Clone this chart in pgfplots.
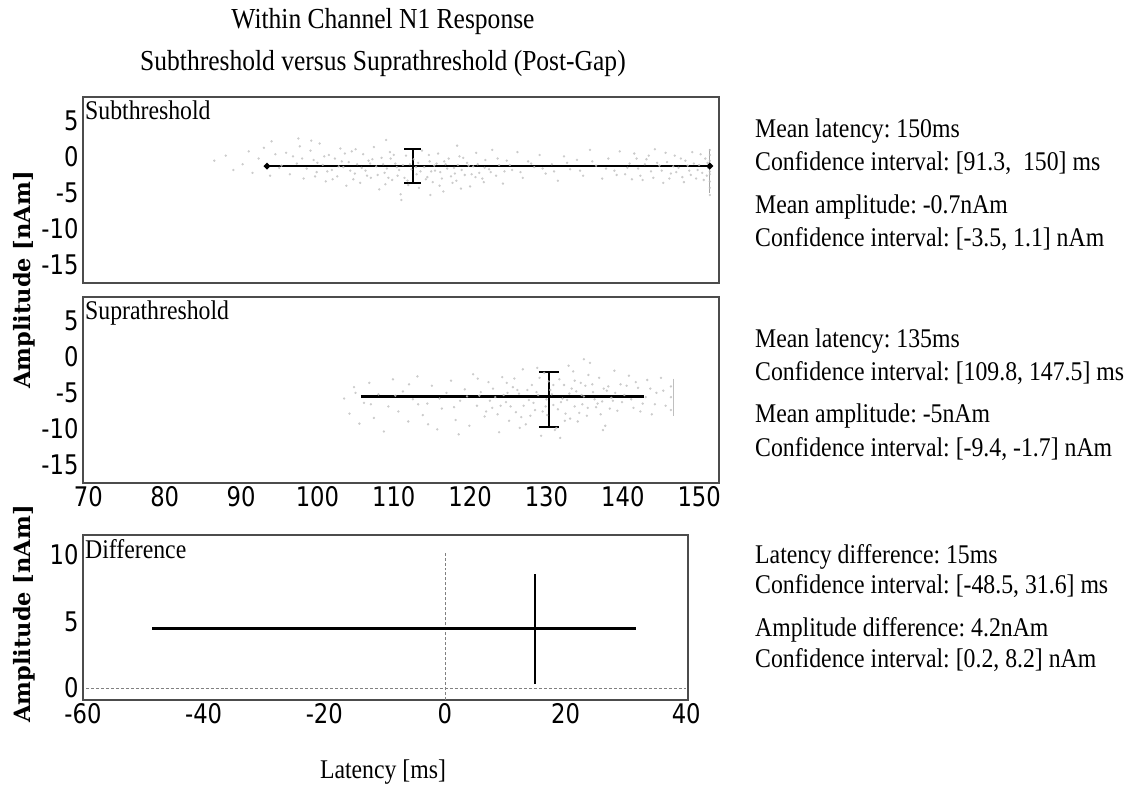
\documentclass[border=0pt]{standalone}
\usepackage{pgfplots}
\pgfplotsset{compat=1.18}
\usepackage{pgfplotstable}
\usepackage{fontspec}
\setmainfont[FakeStretch=0.88]{Liberation Serif}
\newfontfamily\titlefam[FakeStretch=0.88]{Liberation Serif}
\newfontfamily\tickfam[FakeStretch=0.84]{DejaVu Sans}
\newfontfamily\labfam{DejaVu Serif}
\newcommand{\tickfont}{\tickfam\fontsize{27bp}{29bp}\selectfont}
\newcommand{\txtfont}{\fontsize{27bp}{30bp}\selectfont}
\frenchspacing

\pgfplotstableread{
x y
86.5 -0.5
88.0 0.2
89.0 -1.8
90.2 -1.0
91.0 0.8
91.5 -2.2
92.3 -0.2
93.0 1.3
93.8 -2.6
94.5 0.4
95.0 -1.5
94.0 2.2
95.3 -1.2
95.9 0.6
96.4 -2.4
96.8 0.1
97.3 -0.9
97.7 1.5
98.2 -3.0
98.6 -1.6
99.1 0.9
99.5 -0.4
99.9 -2.1
100.3 1.9
100.7 -1.1
101.1 -3.4
101.5 0.3
101.9 -1.8
102.3 -0.2
102.6 -2.7
103.0 1.2
103.4 -1.4
103.8 -4.0
104.1 -0.7
104.5 0.8
104.9 -2.3
105.2 -1.0
105.6 -3.6
106.0 0.4
106.3 -1.9
106.7 -0.5
107.0 -2.9
107.4 1.4
107.7 -1.3
108.1 -4.5
108.4 -0.1
108.8 -2.2
109.1 -1.6
109.5 0.7
109.8 -3.2
110.2 -0.9
110.5 -2.6
110.9 -5.2
111.2 -1.1
111.6 0.2
111.9 -3.9
112.3 -1.7
112.6 -0.3
113.0 -2.4
113.3 -4.3
113.7 0.9
114.0 -1.4
114.4 -2.8
114.7 -0.6
115.1 -3.5
115.4 -1.9
115.8 0.5
116.1 -2.1
116.5 -4.8
116.8 -1.0
117.2 -0.2
117.5 -2.7
117.9 -1.5
118.2 -3.3
118.6 0.1
118.9 -1.8
119.3 -2.5
119.6 -0.8
120.0 -4.1
120.4 -1.3
120.8 0.6
121.2 -2.2
121.6 -3.0
122.0 -0.4
122.5 -1.7
122.9 1.0
123.4 -2.6
123.8 -1.1
124.3 -3.7
124.8 -0.5
100.0 -0.8
101.3 -2.0
102.8 -1.3
103.6 0.5
104.7 -3.1
105.8 -1.5
106.9 -0.9
107.9 -2.5
108.9 -3.8
109.6 -0.2
110.4 -1.4
111.4 -2.9
112.1 -1.0
113.2 -0.8
114.2 -3.1
114.9 -2.0
115.6 -0.9
116.3 -3.0
117.0 -1.6
118.0 -2.3
118.8 -4.4
119.8 -1.2
120.7 -2.8
121.9 -1.5
97.5 2.6
99.2 2.3
125.5 -1.8
126.2 0.7
126.9 -2.9
127.6 -0.6
128.4 -1.4
129.1 0.3
129.9 -2.3
130.7 -1.0
131.5 -3.3
132.3 0.1
133.1 -1.7
134.0 -0.4
134.8 -2.6
135.7 1.0
136.5 -1.2
137.3 -3.0
138.1 -0.2
138.9 -1.9
139.6 0.8
140.3 -2.4
140.9 -0.9
141.5 0.5
142.0 -1.6
142.6 -3.2
143.1 -0.3
143.7 -2.0
144.2 1.1
144.8 -1.2
145.3 -3.6
145.8 -0.7
146.3 -2.3
146.8 0.2
147.3 -1.5
147.8 -2.8
148.2 -0.5
148.7 -1.9
149.1 0.7
149.6 -3.0
150.0 -1.1
150.4 -2.2
150.8 -0.2
151.2 -1.5
151.4 -3.4
151.4 0.3
151.4 -1.0
151.4 -2.4
151.4 -4.3
151.4 1.0
151.4 -0.5
151.4 -5.3
151.4 -2.0
98.0 -0.2
99.7 -2.7
100.9 0.1
102.0 -3.1
103.2 -0.6
104.3 -1.9
105.0 1.1
106.5 -2.6
107.2 -0.3
108.6 -1.0
109.3 -2.9
110.0 0.3
110.7 -1.8
111.8 -3.3
112.9 -1.4
113.5 -2.0
114.6 0.3
115.3 -1.2
116.0 -4.0
116.6 -0.6
117.7 -3.6
118.4 -1.1
119.1 -0.1
120.2 -2.4
121.0 -1.0
121.8 -3.5
122.7 -2.1
123.6 -0.2
124.5 -2.0
125.2 -1.1
126.6 -2.1
128.0 -0.9
129.5 -1.6
131.0 -2.0
132.7 -0.8
134.4 -1.9
136.0 -0.6
137.8 -1.6
139.2 -2.5
140.6 -1.5
141.2 -3.1
141.8 -0.2
142.3 -2.6
142.9 -1.0
143.4 0.2
144.0 -2.9
144.5 -0.8
145.1 -1.9
145.6 0.6
146.1 -3.0
146.6 -1.3
147.0 -2.1
147.6 -0.2
148.0 -3.5
148.5 -1.2
148.9 -2.5
149.3 -0.9
149.8 -1.8
150.2 0.4
150.6 -3.2
151.0 -2.6
151.1 -0.8
111.0 -6.0
114.8 -5.3
109.0 2.4
118.3 1.6
}\subcloud

\pgfplotstableread{
x y
103.5 -5.8
104.2 -7.9
104.8 -4.2
105.5 -9.3
106.1 -6.4
106.8 -3.6
107.4 -8.5
108.0 -5.2
108.7 -10.4
109.3 -6.9
109.9 -3.1
110.6 -7.6
111.2 -4.8
111.9 -9.0
112.5 -5.9
113.1 -2.7
113.8 -8.1
114.4 -6.5
115.0 -4.0
115.7 -10.1
116.3 -7.2
116.9 -5.0
117.5 -3.3
118.1 -8.8
118.7 -6.1
119.3 -4.5
119.9 -9.6
120.4 -2.4
120.9 -6.8
121.4 -4.9
121.9 -8.3
122.4 -3.5
122.9 -7.1
123.3 -5.6
123.8 -10.5
124.2 -2.8
124.7 -6.3
125.1 -8.9
125.6 -4.2
126.0 -7.7
126.4 -5.1
126.9 -1.7
127.3 -9.4
127.7 -6.0
128.1 -3.9
128.5 -7.4
128.9 -5.3
129.3 -11.0
129.7 -2.2
130.1 -8.1
130.5 -4.6
130.9 -6.7
131.3 -9.9
131.7 -3.1
132.1 -5.8
132.5 -7.9
132.9 -1.2
133.3 -4.4
133.7 -6.9
134.1 -9.0
134.5 -3.6
134.9 -5.5
135.3 -8.2
135.7 -0.8
136.1 -4.9
136.5 -7.0
136.9 -2.9
137.3 -6.2
137.7 -9.6
138.1 -4.1
138.5 -5.7
138.9 -1.9
139.3 -7.5
139.7 -3.8
121.2 -5.4
122.1 -7.6
123.0 -4.4
124.0 -6.8
124.9 -5.0
125.8 -3.0
126.7 -8.4
127.5 -4.6
128.3 -6.4
129.1 -2.9
129.9 -6.9
130.7 -5.2
131.5 -7.3
132.3 -3.9
133.1 -8.6
133.9 -4.8
134.7 -6.6
135.5 -2.5
136.3 -5.9
137.1 -8.0
137.9 -4.7
138.7 -6.1
130.3 -3.4
131.1 -10.2
132.7 -6.0
133.5 -2.0
134.3 -7.8
135.1 -4.0
140.2 -5.3
140.8 -2.6
141.4 -7.1
142.0 -4.3
142.6 -6.5
143.2 -3.2
143.8 -8.0
144.4 -5.0
145.0 -2.9
145.6 -6.8
146.3 -4.1
146.3 -7.4
146.3 -5.6
122.6 -6.1
123.6 -8.0
124.4 -5.3
125.3 -6.9
126.2 -4.6
127.0 -6.8
127.9 -8.2
128.7 -4.9
129.5 -7.6
130.0 -5.9
130.9 -3.9
131.9 -6.3
132.4 -8.9
133.0 -5.1
133.7 -3.3
134.6 -5.3
135.4 -7.1
136.0 -3.8
136.7 -6.5
137.5 -4.4
138.3 -7.2
139.0 -5.0
139.9 -6.3
140.5 -4.0
141.1 -5.9
141.7 -3.5
142.3 -7.6
143.0 -5.6
143.6 -4.4
144.2 -6.6
145.3 -4.7
124.8 -3.6
126.5 -9.9
128.8 -1.5
131.8 -11.3
134.9 -0.3
137.4 -10.2
116.0 -5.8
117.9 -7.0
119.6 -5.5
121.0 -3.0
113.2 -6.6
110.2 -5.4
107.0 -6.6
105.0 -5.0
112.0 -3.8
118.5 -10.8
114.5 -9.4
}\supcloud

\pgfplotsset{
  panel/.style={
    scale only axis,
    axis line style={draw=black!70, line width=1.2bp},
    major tick length=0pt,
    tick label style={font=\tickfont},
    yticklabel style={xshift=-1bp},
    /pgf/number format/assume math mode=true,
    clip=true,
  },
  cloud/.style={only marks, mark=*, mark size=1bp, gray!50, mark options={draw opacity=0.7, fill opacity=0.7}},
}

\begin{document}
\begin{tikzpicture}
\useasboundingbox (0,0) rectangle (1132bp,-787bp);

% Title
\node[anchor=base, font=\titlefam\fontsize{29bp}{32bp}\selectfont] at (383bp,-28bp) {Within Channel N1 Response};
\node[anchor=base, font=\titlefam\fontsize{29bp}{32bp}\selectfont] at (383bp,-70bp) {Subthreshold versus Suprathreshold (Post-Gap)};

% Top panel
\begin{axis}[panel, at={(83bp,-97bp)}, anchor=north west, width=636bp, height=186bp,
  xmin=69.3, xmax=152.6, ymin=-17.6, ymax=8.4, ytick={-15,-10,-5,0,5}, xtick=\empty]
\addplot[cloud] table {\subcloud};
\addplot[gray!70, line width=0.8bp] coordinates {(151.4,-5.0) (151.4,1.2)};
\addplot[black, line width=2.7bp, mark=*, mark size=1.6bp] coordinates {(93.4,-1.26) (151.4,-1.26)};
\addplot[black, line width=2bp] coordinates {(112.5,1.1) (112.5,-3.6)};
\addplot[black, line width=2bp] coordinates {(111.4,1.1) (113.6,1.1)};
\addplot[black, line width=2bp] coordinates {(111.4,-3.6) (113.6,-3.6)};
\node[anchor=north west, font=\txtfont, inner sep=2bp, yshift=-2bp] at (rel axis cs:0,1) {Subthreshold};
\end{axis}

% Middle panel
\begin{axis}[panel, at={(83bp,-297bp)}, anchor=north west, width=636bp, height=186bp,
  xmin=69.3, xmax=152.6, ymin=-17.6, ymax=8.4, ytick={-15,-10,-5,0,5}, xtick={70,80,...,150}]
\addplot[cloud] table {\supcloud};
\addplot[gray!50, line width=0.6bp] coordinates {(146.6,-3.0) (146.6,-8.2)};
\addplot[black, line width=2.7bp] coordinates {(105.7,-5.5) (142.8,-5.5)};
\addplot[black, line width=2bp] coordinates {(130.3,-2.1) (130.3,-9.8)};
\addplot[black, line width=2bp] coordinates {(129.0,-2.1) (131.6,-2.1)};
\addplot[black, line width=2bp] coordinates {(129.0,-9.8) (131.6,-9.8)};
\addplot[black, only marks, mark=*, mark size=1.6bp] coordinates {(130.3,-5.5)};
\node[anchor=north west, font=\txtfont, inner sep=2bp, yshift=-2bp] at (rel axis cs:0,1) {Suprathreshold};
\end{axis}

% Bottom panel
\begin{axis}[panel, at={(83bp,-535bp)}, anchor=north west, width=605bp, height=165bp,
  xmin=-60, xmax=40.3, ymin=-0.9, ymax=11.5, ytick={0,5,10}, xtick={-60,-40,...,40}]
\addplot[gray, densely dashed, line width=0.7bp] coordinates {(-59.5,0) (40,0)};
\addplot[gray, densely dashed, line width=0.7bp] coordinates {(0,-0.9) (0,10.3)};
\addplot[black, line width=2.7bp] coordinates {(-48.5,4.5) (31.6,4.5)};
\addplot[black, line width=2bp] coordinates {(15,0.3) (15,8.6)};
\node[anchor=north west, font=\txtfont, inner sep=2bp, yshift=-2bp] at (rel axis cs:0,1) {Difference};
\end{axis}

% y labels
\node[rotate=90, anchor=center, font=\labfam\bfseries\fontsize{22.5bp}{25bp}\selectfont] at (24bp,-280bp) {Amplitude [nAm]};
\node[rotate=90, anchor=center, font=\labfam\bfseries\fontsize{22.5bp}{25bp}\selectfont] at (24bp,-614bp) {Amplitude [nAm]};

% x label
\node[anchor=base, font=\txtfont] at (383bp,-778bp) {Latency [ms]};

% right texts
\begin{scope}[every node/.style={anchor=base west, font=\txtfont, inner sep=0pt}]
\node at (755bp,-137bp) {Mean latency: 150ms};
\node at (755bp,-170bp) {Confidence interval: [91.3,\ \ 150] ms};
\node at (755bp,-213bp) {Mean amplitude: -0.7nAm};
\node at (755bp,-246bp) {Confidence interval: [-3.5, 1.1] nAm};
\node at (755bp,-347bp) {Mean latency: 135ms};
\node at (755bp,-380bp) {Confidence interval: [109.8, 147.5] ms};
\node at (755bp,-422bp) {Mean amplitude: -5nAm};
\node at (755bp,-456bp) {Confidence interval: [-9.4, -1.7] nAm};
\node at (755bp,-563bp) {Latency difference: 15ms};
\node at (755bp,-593bp) {Confidence interval: [-48.5, 31.6] ms};
\node at (755bp,-636bp) {Amplitude difference: 4.2nAm};
\node at (755bp,-667bp) {Confidence interval: [0.2, 8.2] nAm};
\end{scope}
\end{tikzpicture}
\end{document}
